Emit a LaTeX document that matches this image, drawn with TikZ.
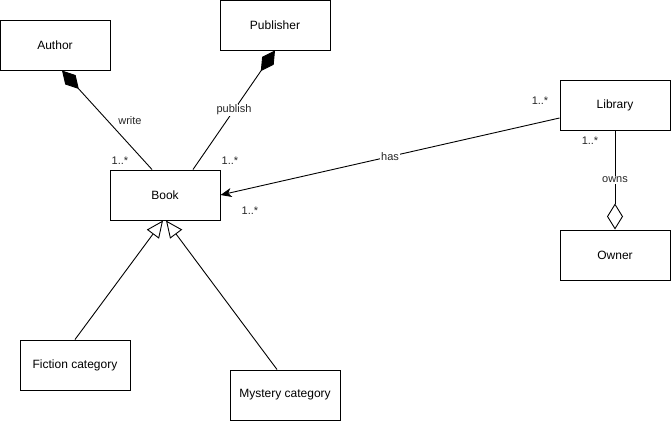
\documentclass[tikz,border=0pt]{standalone}
\usepackage{fontspec}
\setmainfont{Liberation Sans}
\usetikzlibrary{arrows.meta}
\begin{document}
\begin{tikzpicture}[x=1pt,y=-1pt,
  cls/.style={draw=black,line width=1pt,minimum width=110pt,minimum height=50pt,inner sep=0pt,font=\fontsize{12}{14}\selectfont,fill=white},
  conn/.style={draw=black,line width=0.9pt},
  lbl/.style={font=\fontsize{11}{13}\selectfont,inner sep=1pt,text=black!85},
  elbl/.style={lbl,fill=white},
  comp/.style={conn,{Diamond[length=25pt,width=14pt]}-},
  aggr/.style={conn,-{Diamond[open,length=26pt,width=16pt,fill=white]}},
  gen/.style={conn,-{Triangle[open,length=17pt,width=15pt,fill=white]}},
  assoc/.style={conn,-{Stealth[length=11pt,width=9pt,inset=3pt]}}]
\useasboundingbox (0,0) rectangle (671,421);
\node[cls] (author) at (55,45) {Author};
\node[cls] (pub) at (275,25) {Publisher};
\node[cls] (book) at (165,195) {Book};
\node[cls] (lib) at (615,105) {Library};
\node[cls] (owner) at (615,255) {Owner};
\node[cls] (fic) at (75,365) {Fiction category};
\node[cls] (mys) at (285,395) {Mystery category};

\draw[comp] ([xshift=7pt]author.south) -- ([xshift=-13pt]book.north);
\draw[comp] (pub.south) -- node[elbl,pos=0.5] (lpub) {publish} ([xshift=28pt]book.north);
\draw[assoc] ([yshift=-13pt]lib.west) -- node[elbl,pos=0.5] (lhas) {has} (book.east);
\draw[aggr] (lib.south) -- node[elbl,pos=0.5] (lowns) {owns} (owner.north);
\draw[gen] (fic.north) -- ([xshift=-2pt]book.south);
\draw[gen] ([xshift=-8pt]mys.north) -- ([xshift=1pt]book.south);

\node[lbl] (lwrite) at (130,121) {write};
\node[lbl] (m1) at (120,161) {1..*};
\node[lbl] (m2) at (230,161) {1..*};
\node[lbl] (m3) at (250,211) {1..*};
\node[lbl] (m4) at (540,101) {1..*};
\node[lbl] (m5) at (590,141) {1..*};
\end{tikzpicture}
\end{document}
